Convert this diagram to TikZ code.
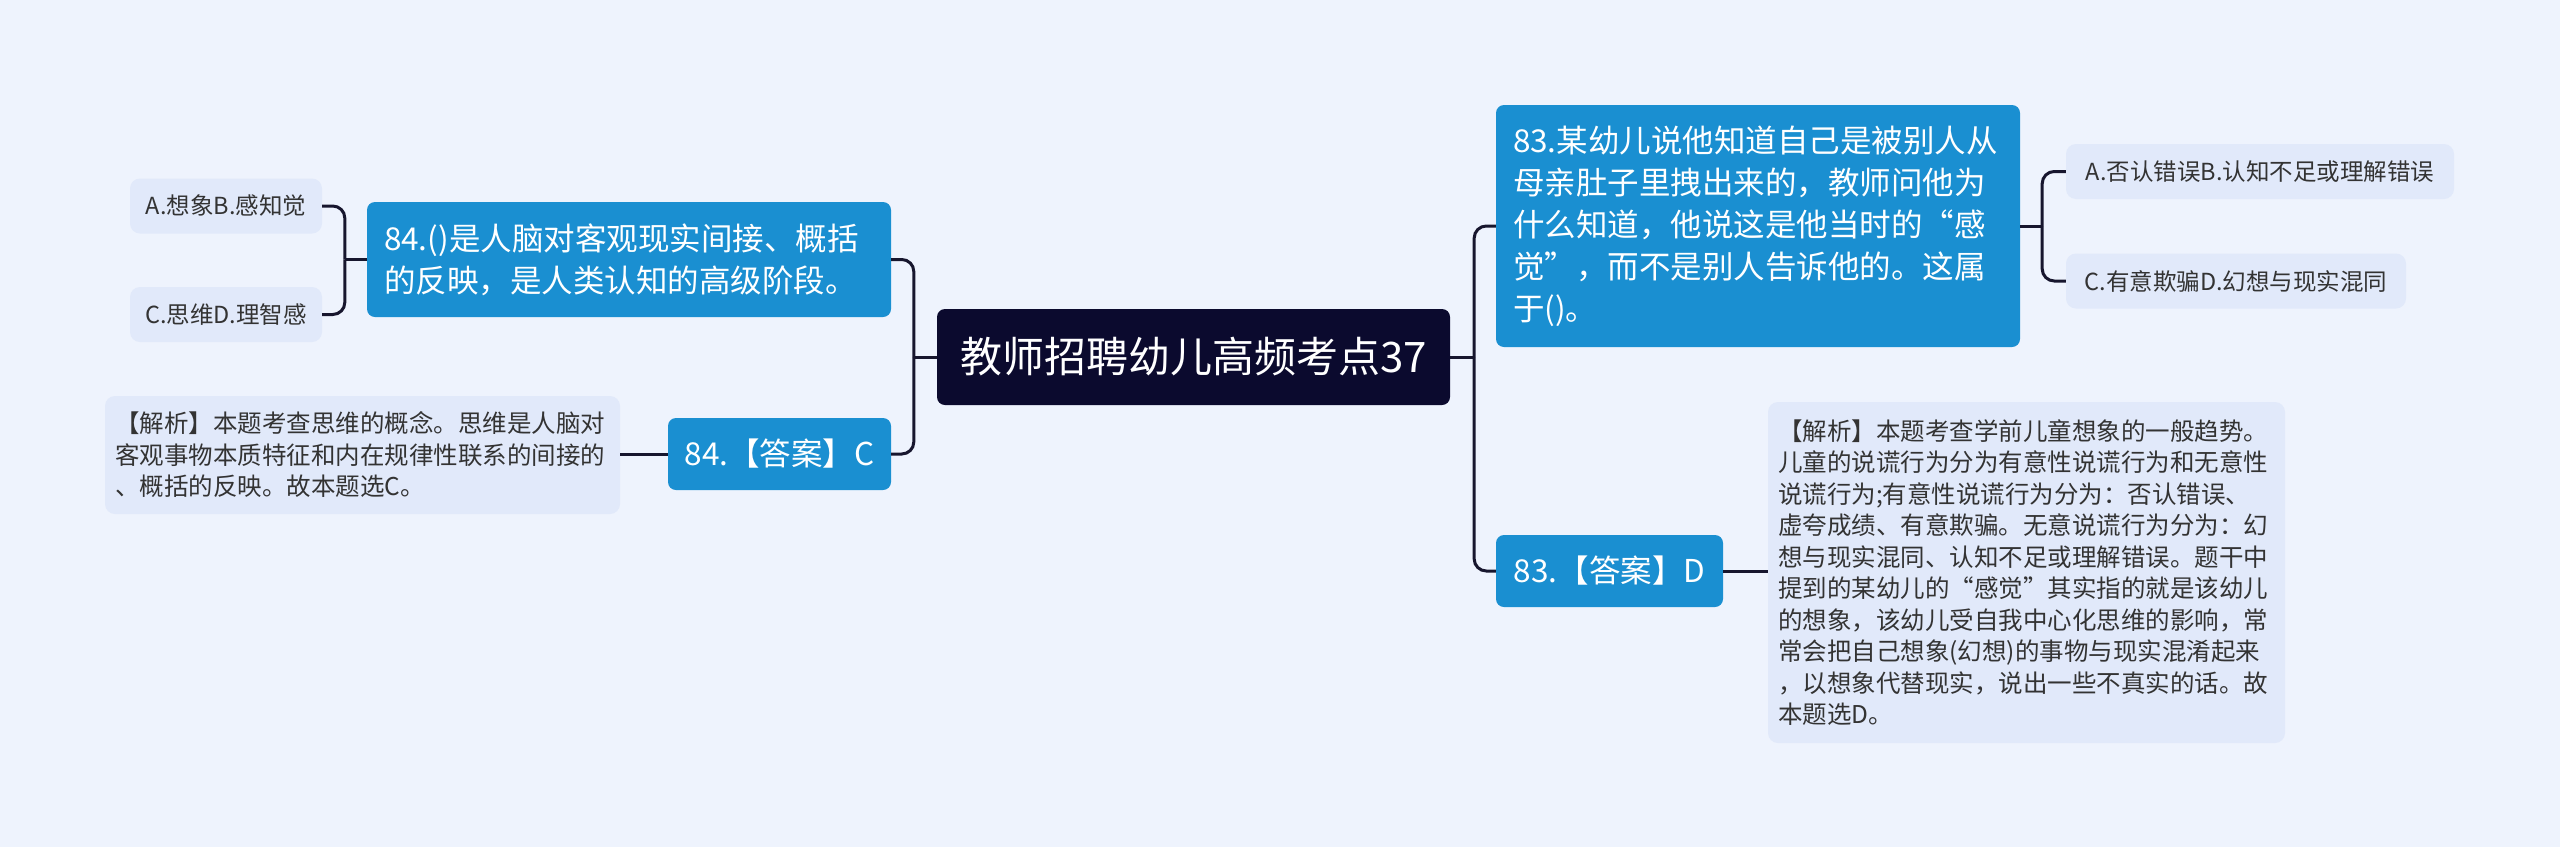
\documentclass[tikz,border=0pt]{standalone}
\usepackage{fontspec}
\setmainfont{Noto Sans CJK SC}
\usetikzlibrary{positioning}

\definecolor{bgcol}{HTML}{EEF3FD}
\definecolor{rootcol}{HTML}{0B0A2E}
\definecolor{bluecol}{HTML}{1A8FD1}
\definecolor{leafcol}{HTML}{E1E9FA}
\definecolor{linecol}{HTML}{17162E}
\definecolor{leaftext}{HTML}{333333}

\tikzset{
	rootbox/.style={fill=rootcol,text=white,rounded corners=8pt,inner sep=0pt,minimum width=513pt,minimum height=96pt,font=\fontsize{42}{50}\selectfont},
	bluebox/.style={fill=bluecol,text=white,rounded corners=8pt,align=left,inner xsep=17pt,inner ysep=0pt,font=\fontsize{31.5}{42}\selectfont},
	optbox/.style={fill=leafcol,text=leaftext,rounded corners=10pt,inner sep=0pt,minimum height=55pt,font=\fontsize{23.5}{28}\selectfont},
	notebox/.style={fill=leafcol,text=leaftext,rounded corners=10pt,align=left,inner xsep=10pt,inner ysep=0pt,font=\fontsize{24.5}{31.5}\selectfont},
	conn/.style={draw=linecol,line width=3pt,rounded corners=12pt}
}

\begin{document}
\begin{tikzpicture}[x=1pt,y=-1pt]
	\fill[bgcol] (0,0) rectangle (2560,847);
	\useasboundingbox (0,0) rectangle (2560,847);

	% centre
	\node[rootbox] (root) at (1193.5,357) {教师招聘幼儿高频考点37};

	% left side, question 84
	\node[bluebox,text width=490pt,minimum height=115pt] (q84) at (629,259.5) {84.()是人脑对客观现实间接、概括\\的反映，是人类认知的高级阶段。};
	\node[optbox,minimum width=192pt] (ab84) at (226,206) {A.想象B.感知觉};
	\node[optbox,minimum width=192pt] (cd84) at (226,314.5) {C.思维D.理智感};
	\node[bluebox,align=center,inner xsep=0pt,minimum width=223pt,minimum height=72pt] (ans84) at (779.5,454) {84.【答案】C};
	\node[notebox,text width=495pt,minimum height=118pt] (expl84) at (362.5,455) {【解析】本题考查思维的概念。思维是人脑对\\客观事物本质特征和内在规律性联系的间接的\\、概括的反映。故本题选C。};

	% right side, question 83
	\node[bluebox,text width=490pt,minimum height=242pt] (q83) at (1758,226) {83.某幼儿说他知道自己是被别人从\\母亲肚子里拽出来的，教师问他为\\什么知道，他说这是他当时的“感\\觉”，而不是别人告诉他的。这属\\于()。};
	\node[optbox,minimum width=388pt] (ab83) at (2260,171.5) {A.否认错误B.认知不足或理解错误};
	\node[optbox,minimum width=340pt] (cd83) at (2236,281) {C.有意欺骗D.幻想与现实混同};
	\node[bluebox,align=center,inner xsep=0pt,minimum width=227pt,minimum height=72pt] (ans83) at (1609.5,571) {83.【答案】D};
	\node[notebox,text width=497pt,minimum height=341pt] (expl83) at (2026.5,572.5) {【解析】本题考查学前儿童想象的一般趋势。\\儿童的说谎行为分为有意性说谎行为和无意性\\说谎行为;有意性说谎行为分为：否认错误、\\虚夸成绩、有意欺骗。无意说谎行为分为：幻\\想与现实混同、认知不足或理解错误。题干中\\提到的某幼儿的“感觉”其实指的就是该幼儿\\的想象，该幼儿受自我中心化思维的影响，常\\常会把自己想象(幻想)的事物与现实混淆起来\\，以想象代替现实，说出一些不真实的话。故\\本题选D。};

	% junctions
	\coordinate[left=23pt of root.west] (jl);
	\coordinate[right=24pt of root.east] (jr);
	\coordinate[left=22pt of q84.west] (j84);
	\coordinate[right=22pt of q83.east] (j83);

	% connectors
	\draw[conn] (root.west) -- (jl);
	\draw[conn] (jl) |- (q84.east);
	\draw[conn] (jl) |- (ans84.east);
	\draw[conn] (root.east) -- (jr);
	\draw[conn] (jr) |- (q83.west);
	\draw[conn] (jr) |- (ans83.west);
	\draw[conn] (q84.west) -- (j84);
	\draw[conn] (j84) |- (ab84.east);
	\draw[conn] (j84) |- (cd84.east);
	\draw[conn] (q83.east) -- (j83);
	\draw[conn] (j83) |- (ab83.west);
	\draw[conn] (j83) |- (cd83.west);
	\draw[conn] (ans84.west) -- (ans84.west -| expl84.east);
	\draw[conn] (ans83.east) -- (ans83.east -| expl83.west);
\end{tikzpicture}
\end{document}
